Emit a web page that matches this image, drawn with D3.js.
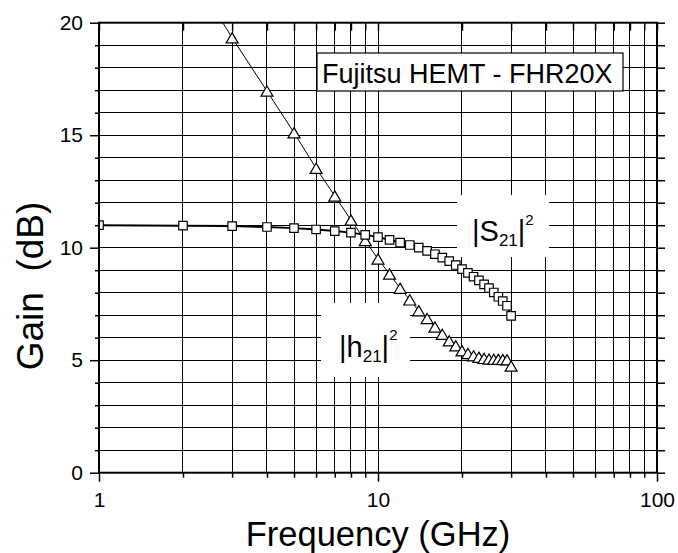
<!DOCTYPE html>
<html>
<head>
<meta charset="utf-8">
<script src="https://cdn.jsdelivr.net/npm/d3@7"></script>
<style>
  body { margin: 0; background: #fff; }
  svg { display: block; font-family: "Liberation Sans", Arial, sans-serif; }
</style>
</head>
<body>
<div id="chart"></div>
<script>
// Data
const freqS21 = [1, 2, 3, 4, 5, 6, 7, 8, 9, 10, 11, 12, 13, 14, 15, 16, 17, 18, 19, 20, 21, 22, 23, 24, 25, 26, 27, 28, 29, 30];
const gainS21 = [11.0, 10.98, 10.96, 10.92, 10.87, 10.81, 10.74, 10.67, 10.57, 10.47, 10.35, 10.23, 10.12, 10.0, 9.86, 9.71, 9.56, 9.4, 9.23, 9.05, 8.88, 8.71, 8.55, 8.37, 8.2, 8.01, 7.82, 7.63, 7.42, 6.97];

const freqH21 = [2, 3, 4, 5, 6, 7, 8, 9, 10, 11, 12, 13, 14, 15, 16, 17, 18, 19, 20, 21, 22, 23, 24, 25, 26, 27, 28, 29, 30];
const gainH21 = [22.85, 19.33, 16.96, 15.11, 13.53, 12.3, 11.23, 10.32, 9.5, 8.83, 8.2, 7.68, 7.2, 6.85, 6.47, 6.15, 5.86, 5.64, 5.42, 5.3, 5.2, 5.13, 5.08, 5.05, 5.04, 5.04, 5.03, 5.02, 4.74];

const xMajor = [1, 10, 100];
const xMinor = [2, 3, 4, 5, 6, 7, 8, 9, 20, 30, 40, 50, 60, 70, 80, 90];
const yMajor = [0, 5, 10, 15, 20];
const yMinor = [1, 2, 3, 4, 6, 7, 8, 9, 11, 12, 13, 14, 16, 17, 18, 19];

const titleText = "Fujitsu HEMT - FHR20X";
const xLabel = "Frequency (GHz)";
const yLabel = "Gain\u00a0\u00a0(dB)";

// Setup
const W = 678, H = 553;
const margin = { top: 22.7, right: 21, bottom: 80.3, left: 99 };
const width = W - margin.left - margin.right;
const height = H - margin.top - margin.bottom;

const svg = d3.select("#chart").append("svg")
  .attr("width", W)
  .attr("height", H);

const g = svg.append("g")
  .attr("transform", `translate(${margin.left},${margin.top})`);

const x = d3.scaleLog().domain([1, 100]).range([0, width]);
const y = d3.scaleLinear().domain([0, 20]).range([height, 0]);

// Grid
const grid = g.append("g").attr("stroke", "#000").attr("stroke-width", 1).attr("shape-rendering", "crispEdges");
grid.selectAll(".vx")
  .data(xMinor.concat([10]))
  .join("line")
  .attr("x1", d => x(d)).attr("x2", d => x(d))
  .attr("y1", 0).attr("y2", height);
grid.selectAll(".hy")
  .data(yMinor.concat([5, 10, 15]))
  .join("line")
  .attr("x1", 0).attr("x2", width)
  .attr("y1", d => y(d)).attr("y2", d => y(d));

// White boxes behind the curve labels
const boxes = g.append("g").attr("fill", "#fff");
boxes.append("rect").attr("x", 457 - margin.left).attr("y", 195 - margin.top).attr("width", 92).attr("height", 62);
boxes.append("rect").attr("x", 321 - margin.left).attr("y", 303 - margin.top).attr("width", 89).attr("height", 74);

// Title box
g.append("rect")
  .attr("x", 317 - margin.left).attr("y", 53 - margin.top)
  .attr("width", 306).attr("height", 38)
  .attr("fill", "#fff").attr("stroke", "#000").attr("stroke-width", 1.2);
g.append("text")
  .attr("x", 322 - margin.left).attr("y", 83.3 - margin.top)
  .attr("font-size", 27)
  .text(titleText);

// Data
g.append("clipPath").attr("id", "clip")
  .append("rect").attr("width", width).attr("height", height);

const plot = g.append("g").attr("clip-path", "url(#clip)");

const s21 = freqS21.map((f, i) => ({ f, v: gainS21[i] }));
const h21 = freqH21.map((f, i) => ({ f, v: gainH21[i] }));

const line = d3.line().x(d => x(d.f)).y(d => y(d.v));

plot.append("path").datum(h21)
  .attr("d", line).attr("fill", "none").attr("stroke", "#000").attr("stroke-width", 1);
plot.append("path").datum(s21)
  .attr("d", line).attr("fill", "none").attr("stroke", "#000").attr("stroke-width", 2);

const triangleUp = {
  draw(context, size) {
    const w = Math.sqrt(size), h = w * 0.85;
    context.moveTo(0, -h / 2);
    context.lineTo(w / 2, h / 2);
    context.lineTo(-w / 2, h / 2);
    context.closePath();
  }
};

plot.selectAll(".tri")
  .data(h21)
  .join("path")
  .attr("transform", d => `translate(${x(d.f)},${y(d.v)})`)
  .attr("d", d3.symbol(triangleUp, 144))
  .attr("fill", "#fff").attr("stroke", "#000").attr("stroke-width", 1.2);

plot.selectAll(".sq")
  .data(s21)
  .join("path")
  .attr("transform", d => `translate(${x(d.f)},${y(d.v)})`)
  .attr("d", d3.symbol(d3.symbolSquare, 72))
  .attr("fill", "#fff").attr("stroke", "#000").attr("stroke-width", 1.2);

// Axes
function styleAxis(sel) {
  sel.select(".domain").remove();
  sel.selectAll("line").attr("stroke", "#000").attr("stroke-width", 1.5);
  sel.selectAll("text").attr("font-size", 21).attr("font-family", "Liberation Sans, Arial, sans-serif").attr("fill", "#000");
}

g.append("g").call(d3.axisLeft(y).tickValues(yMajor).tickSize(9).tickPadding(7)).call(styleAxis);
g.append("g").call(d3.axisLeft(y).tickValues(yMinor).tickSize(4).tickFormat("")).call(styleAxis);
g.append("g").attr("transform", `translate(${width},0)`)
  .call(d3.axisLeft(y).tickValues(yMajor.concat(yMinor)).tickSize(-8).tickFormat("")).call(styleAxis);

g.append("g").attr("transform", `translate(0,${height})`)
  .call(d3.axisBottom(x).tickValues(xMajor).tickSize(9).tickPadding(10).tickFormat(d3.format("d"))).call(styleAxis);
g.append("g").attr("transform", `translate(0,${height})`)
  .call(d3.axisBottom(x).tickValues(xMinor).tickSize(5).tickFormat("")).call(styleAxis);
g.append("g")
  .call(d3.axisTop(x).tickValues(xMajor.concat(xMinor)).tickSize(-8).tickFormat("")).call(styleAxis);

// Frame
g.append("rect")
  .attr("width", width).attr("height", height)
  .attr("fill", "none").attr("stroke", "#000").attr("stroke-width", 2);

// Curve labels
const sLab = g.append("text").attr("x", 472 - margin.left).attr("y", 241 - margin.top).attr("font-size", 29);
sLab.append("tspan").text("|S");
sLab.append("tspan").attr("y", 246.5 - margin.top).attr("font-size", 17).text("21");
sLab.append("tspan").attr("y", 241 - margin.top).text("|");
sLab.append("tspan").attr("y", 225 - margin.top).attr("font-size", 15).text("2");

const hLab = g.append("text").attr("x", 339 - margin.left).attr("y", 356.7 - margin.top).attr("font-size", 29);
hLab.append("tspan").text("|h");
hLab.append("tspan").attr("y", 361.7 - margin.top).attr("font-size", 17).text("21");
hLab.append("tspan").attr("y", 356.7 - margin.top).text("|");
hLab.append("tspan").attr("y", 340 - margin.top).attr("font-size", 15).text("2");

// Axis titles
svg.append("text")
  .attr("x", margin.left + width / 2).attr("y", 545.5)
  .attr("text-anchor", "middle").attr("font-size", 34.5)
  .text(xLabel);

svg.append("text")
  .attr("transform", "translate(43,286) rotate(-90)")
  .attr("text-anchor", "middle").attr("font-size", 37)
  .text(yLabel);
</script>
</body>
</html>
